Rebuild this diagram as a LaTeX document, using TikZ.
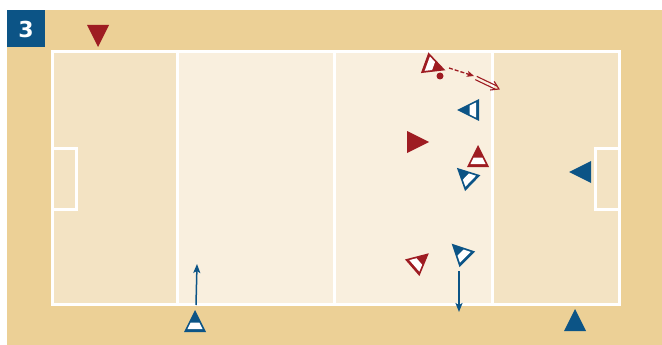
\documentclass[tikz,border=0pt]{standalone}
\usepackage{fontspec}
\setsansfont{DejaVu Sans}
\usetikzlibrary{arrows.meta,calc}
\definecolor{tanbg}{RGB}{236,208,150}
\definecolor{fielddark}{RGB}{243,227,195}
\definecolor{fieldlight}{RGB}{249,239,222}
\definecolor{tblue}{RGB}{12,84,134}
\definecolor{tred}{RGB}{158,28,34}
\tikzset{
  pics/solidtri/.style={code={\fill[#1] (11,0) -- (-11,11) -- (-11,-11) -- cycle;}},
  pics/hollowtri/.style={code={
    \fill[#1] (11,0) -- (-11,11) -- (-11,-11) -- cycle;
    \fill[white] (-8.2,7.6) -- (-1.5,4.3) -- (-1.5,-4.3) -- (-8.2,-7.6) -- cycle;}},
  fieldline/.style={white, line width=3pt},
  runarrow/.style={line width=1.5pt, -{Stealth[length=9pt,width=7pt,inset=2pt]}},
}
\begin{document}
\begin{tikzpicture}[x=1pt,y=-1pt]
\useasboundingbox (0,0) rectangle (662,345);
\fill[white] (0,0) rectangle (662,345);
\fill[tanbg] (7,10) rectangle (662,345);
% field zones
\fill[fielddark] (52,52) rectangle (177,304);
\fill[fieldlight] (177,52) rectangle (492,304);
\fill[fielddark] (492,52) rectangle (619,304);
% lines
\draw[fieldline] (52,52) rectangle (619,304);
\draw[fieldline] (177,52) -- (177,304);
\draw[fieldline] (334,52) -- (334,304);
\draw[fieldline] (492,52) -- (492,304);
\draw[fieldline] (52,148) -- (76,148) -- (76,209) -- (52,209);
\draw[fieldline] (619,148) -- (595,148) -- (595,209) -- (619,209);
% number box
\fill[tblue] (7,10) rectangle (45,47);
\node[text=white, font=\sffamily\bfseries\fontsize{22}{22}\selectfont] (num) at (26,29) {3};
% players
\pic[rotate=270] (r1) at (98,36) {solidtri=tred};
\pic[rotate=-20] (r2) at (435,66.5) {hollowtri=tred};
\pic[rotate=180] (b1) at (468,110) {hollowtri=tblue};
\pic (r3) at (418,142) {solidtri=tred};
\pic[rotate=90] (r4) at (478,156) {hollowtri=tred};
\pic[rotate=136] (b2) at (464.8,175.5) {hollowtri=tblue};
\pic[rotate=180] (b3) at (580,172) {solidtri=tblue};
\pic[rotate=41] (r5) at (420.5,260.5) {hollowtri=tred};
\pic[rotate=135] (b4) at (459.5,251.5) {hollowtri=tblue};
\pic[rotate=90] (b5) at (195,321) {hollowtri=tblue};
\pic[rotate=90] (b6) at (575,320) {solidtri=tblue};
% ball
\node[circle, fill=tred, inner sep=0pt, minimum size=7pt] (ball) at (440,76) {};
% runs
\coordinate (run1s) at (196,305);
\coordinate (run1e) at (197,264);
\draw[tblue, runarrow] (run1s) -- (run1e);
\coordinate (run2s) at (459,271);
\coordinate (run2e) at (459,312);
\draw[tblue, runarrow] (run2s) -- (run2e);
% pass
\coordinate (ps) at (449,68);
\coordinate (pe) at (474,76);
\draw[tred, line width=1.3pt, dash pattern=on 4pt off 2pt, -{Stealth[length=7pt,width=6pt,inset=1.5pt]}] (ps) -- (pe);
% shot (double line)
\coordinate (ss) at (476,78);
\coordinate (se) at (499,89);
\coordinate (sm) at ($(se)!3pt!(ss)$);
\draw[tred, line width=1.1pt] ($(ss)!1.8pt!90:(se)$) -- ($(sm)!1.8pt!-90:(ss)$);
\draw[tred, line width=1.1pt] ($(ss)!1.8pt!-90:(se)$) -- ($(sm)!1.8pt!90:(ss)$);
\draw[tred, line width=1.1pt, line join=miter] ($(se)!9pt!32:(ss)$) -- (se) -- ($(se)!9pt!-32:(ss)$);
\end{tikzpicture}
\end{document}
